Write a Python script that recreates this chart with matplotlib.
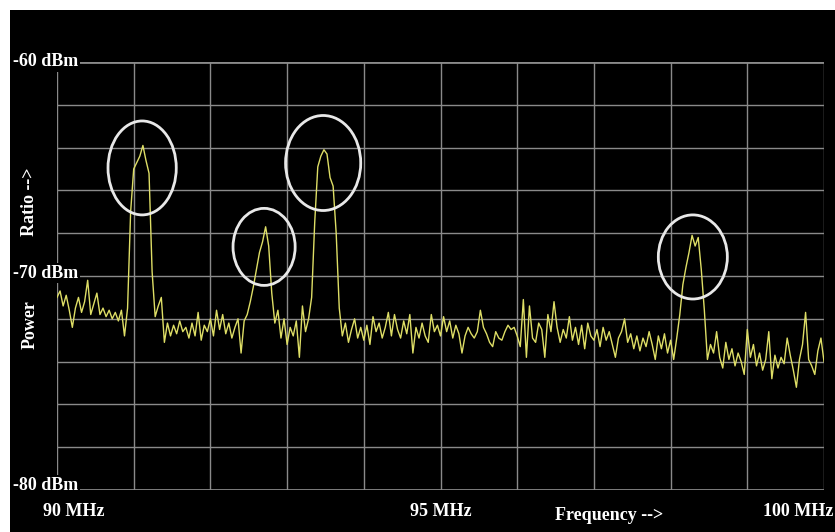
import matplotlib
matplotlib.use("Agg")
import matplotlib.pyplot as plt
from matplotlib.patches import Ellipse, Rectangle
import numpy as np

W, H = 835, 532

# sweep 90..100 MHz, 251 points
f_start, f_stop = 90.0, 100.0
power = [
    -71.0, -70.7, -71.4, -70.9, -71.6, -72.4, -71.5, -71.0, -71.7, -71.2,
    -70.2, -71.8, -71.3, -70.8, -71.8, -71.5, -71.9, -71.6, -72.0, -71.7,
    -72.1, -71.6, -72.8, -71.5, -67.0, -65.0, -64.7, -64.4, -63.9, -64.6,
    -65.2, -69.8, -71.9, -71.4, -71.0, -73.1, -72.2, -72.8, -72.3, -72.7,
    -72.1, -72.6, -72.4, -72.9, -72.2, -72.8, -71.7, -73.0, -72.3, -72.6,
    -72.0, -72.8, -71.6, -72.5, -71.8, -72.7, -72.2, -72.9, -72.4, -72.0,
    -73.6, -72.1, -71.8, -71.2, -70.5, -69.7, -68.9, -68.4, -67.7, -68.6,
    -70.8, -72.2, -71.6, -72.9, -72.0, -73.2, -72.4, -72.8, -72.1, -73.8,
    -71.4, -72.6, -72.0, -71.0, -67.5, -64.9, -64.4, -64.1, -64.3, -65.4,
    -65.8, -68.0, -71.5, -72.8, -72.2, -73.1, -72.5, -72.0, -72.9, -72.4,
    -73.0, -72.3, -73.2, -71.9, -72.6, -72.2, -72.9, -72.4, -71.7, -72.8,
    -71.8, -72.5, -72.9, -72.1, -72.7, -71.8, -73.6, -72.4, -72.9, -72.2,
    -72.8, -73.1, -71.8, -72.6, -72.3, -72.8, -71.9, -72.6, -72.1, -72.9,
    -72.3, -72.7, -73.6, -72.8, -72.4, -72.7, -72.9, -72.6, -71.6, -72.4,
    -72.7, -73.1, -73.3, -72.6, -72.9, -73.0, -72.6, -72.3, -72.5, -72.4,
    -72.8, -73.3, -71.1, -73.8, -71.4, -72.9, -73.1, -72.2, -72.5, -73.8,
    -71.8, -72.6, -71.2, -72.4, -73.1, -72.5, -72.9, -71.9, -73.0, -72.4,
    -73.2, -72.3, -73.4, -72.2, -72.8, -73.0, -72.5, -73.3, -72.4, -73.0,
    -72.6, -73.2, -73.8, -72.9, -72.6, -72.0, -73.1, -72.7, -73.4, -72.8,
    -73.5, -72.9, -73.3, -72.6, -73.2, -73.9, -72.8, -73.4, -72.7, -73.6,
    -73.0, -73.9, -72.9, -71.8, -70.4, -69.6, -68.9, -68.1, -68.6, -68.2,
    -69.7, -71.6, -73.9, -73.2, -73.6, -72.6, -73.8, -74.3, -73.1, -73.9,
    -73.4, -74.2, -73.6, -74.0, -74.6, -72.5, -73.8, -73.2, -74.2, -73.6,
    -74.4, -73.9, -72.6, -74.8, -73.7, -74.3, -73.8, -74.1, -72.9, -73.7,
    -74.4, -75.2, -73.9, -73.2, -71.7, -73.9, -74.2, -74.6, -73.5, -72.9,
    -74.0,
]
freq = np.linspace(f_start, f_stop, len(power))

# marked carriers: centre MHz, centre dBm, width MHz, height dB
ring_f = [91.11, 92.70, 93.47, 98.29]
ring_p = [-64.95, -68.64, -64.72, -69.11]
ring_w = [0.89, 0.81, 0.98, 0.90]
ring_h = [4.39, 3.60, 4.44, 3.93]

db_labels = ["-60 dBm", "-70 dBm", "-80 dBm"]
mhz_labels = ["90 MHz", "95 MHz", "100 MHz"]


def px(x, y):
    return x / W, 1 - y / H


fig = plt.figure(figsize=(W / 100, H / 100), dpi=100, facecolor="white")
# black screen area, white strip along top and left
fig.patches.append(Rectangle((10 / W, 0), 1, 1 - 10 / H, transform=fig.transFigure,
                             facecolor="black", edgecolor="none", zorder=-10))

l, b = px(57, 490)
r, t = px(824, 62)
ax = fig.add_axes([l, b, r - l, t - b])
ax.set_facecolor("black")
ax.set_xlim(f_start, f_stop)
ax.set_ylim(-80, -60)

for x in np.arange(90, 100.01, 1):
    ax.axvline(x, color="#8a8a8a", lw=1.0, zorder=1)
for y in np.arange(-80, -59.9, 2):
    lw = 2.0 if y in (-80, -60) else 1.0
    ax.axhline(y, color="#8a8a8a", lw=lw, zorder=1)
for s in ax.spines.values():
    s.set_visible(False)
ax.set_xticks([])
ax.set_yticks([])

ax.plot(freq, power, color="#dede66", lw=1.0, zorder=3)

for cf, cp, w, h in zip(ring_f, ring_p, ring_w, ring_h):
    ax.add_patch(Ellipse((cf, cp), w, h, fill=False, edgecolor="#e8e8e8", lw=2, zorder=4))

font = dict(family="Liberation Serif", weight="bold", color="white", fontsize=13)
box = dict(facecolor="black", edgecolor="none", pad=1)

for txt, y in zip(db_labels, [62, 273, 485]):
    fig.text(*px(13, y), txt, ha="left", va="center", bbox=box, zorder=10, **font)
for txt, x in zip(mhz_labels[:2], [43, 410]):
    fig.text(*px(x, 511), txt, ha="left", va="center", **font)
fig.text(*px(833, 511), mhz_labels[2], ha="right", va="center", **font)
fig.text(*px(609, 515), "Frequency -->", ha="center", va="center", **font)
fig.text(*px(30, 325), "Power", ha="center", va="center", rotation=90, **font)
fig.text(*px(30, 202), "Ratio -->", ha="center", va="center", rotation=90, **font)

fig.savefig("out.png", dpi=100, facecolor=fig.get_facecolor())
